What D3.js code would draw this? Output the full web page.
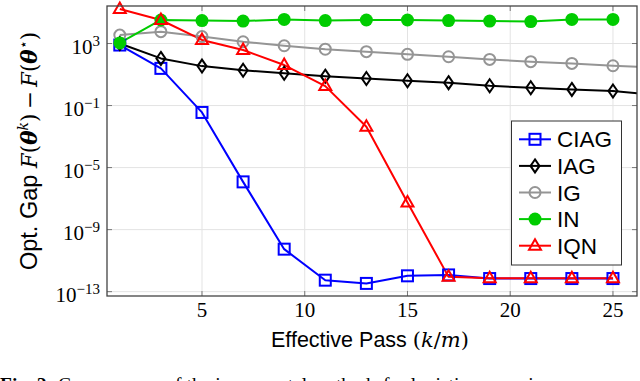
<!DOCTYPE html>
<html>
<head>
<meta charset="utf-8">
<script src="https://cdn.jsdelivr.net/npm/d3@7"></script>
<style>
  body { margin: 0; background: #fff; }
  svg { display: block; }
  .sans { font-family: "Liberation Sans", Arial, sans-serif; }
  .serif { font-family: "Liberation Serif", "Times New Roman", serif; }
  .math { font-family: "DejaVu Serif", serif; }
</style>
</head>
<body>
<div id="chart"></div>
<script>
const WIDTH = 640
const HEIGHT = 381

// effective passes (k/m)
const passes = [1, 3, 5, 7, 9, 11, 13, 15, 17, 19, 21, 23, 25]
const passesLong = [1, 3, 5, 7, 9, 11, 13, 15, 17, 19, 21, 23, 25, 27]

// optimality gap per method
const ciag = [8e2, 2.5e1, 3.6e-2, 1.2e-6, 5.5e-11, 5.5e-13, 3.4e-13, 1.05e-12, 1.2e-12, 7e-13, 7e-13, 7e-13, 7e-13]
const iag = [1.0e3, 1.1e2, 3.5e1, 1.9e1, 1.2e1, 7.9, 5.6, 4.0, 3.0, 1.9, 1.4, 1.1, 0.87, 0.48]
const ig = [3.5e3, 5.8e3, 2.8e3, 1.3e3, 7.2e2, 4.3e2, 3.0e2, 2.0e2, 1.4e2, 9.5e1, 6.8e1, 5.2e1, 3.7e1, 2.8e1]
const inewton = [1.1e3, 3.3e4, 3.0e4, 2.8e4, 3.6e4, 3.0e4, 3.3e4, 3.3e4, 3.0e4, 2.8e4, 2.6e4, 3.6e4, 3.6e4]
const iqn = [1.7e5, 3.3e4, 1.7e3, 3.8e2, 4.1e1, 1.8, 4.3e-3, 5.6e-8, 9e-13, 7.4e-13, 7.4e-13, 7.4e-13, 7.4e-13]

const xTicks = [5, 10, 15, 20, 25]
const yTicks = [3, -1, -5, -9, -13]

const series = [
    {name: 'CIAG', x: passes, y: ciag, color: '#0000ff', marker: 'square'},
    {name: 'IAG', x: passesLong, y: iag, color: '#000000', marker: 'diamond'},
    {name: 'IG', x: passesLong, y: ig, color: '#959595', marker: 'circle'},
    {name: 'IN', x: passes, y: inewton, color: '#00cc00', marker: 'dot'},
    {name: 'IQN', x: passes, y: iqn, color: '#ff0000', marker: 'triangle'},
]

const plot = {left: 107, right: 637, top: 6, bottom: 296}

window.onload = function () {
    const svg = d3.select('#chart').append('svg').attr('width', WIDTH).attr('height', HEIGHT)

    const x = d3.scaleLinear().domain([0.377, 26.17]).range([plot.left, plot.right])
    const y = d3.scaleLog().domain([Math.pow(10, -13.28), Math.pow(10, 5.42)]).range([plot.bottom, plot.top])

    svg.append('defs').append('clipPath').attr('id', 'clip')
        .append('rect')
        .attr('x', plot.left).attr('y', plot.top)
        .attr('width', plot.right - plot.left).attr('height', plot.bottom - plot.top)

    // grid
    const grid = svg.append('g')
    grid.selectAll('.vg').data(xTicks).enter().append('line')
        .attr('x1', d => x(d)).attr('x2', d => x(d))
        .attr('y1', plot.top).attr('y2', plot.bottom)
        .attr('stroke', '#e3e3e3').attr('stroke-width', 1)
    grid.selectAll('.hg').data(yTicks).enter().append('line')
        .attr('y1', d => y(Math.pow(10, d))).attr('y2', d => y(Math.pow(10, d)))
        .attr('x1', plot.left).attr('x2', plot.right)
        .attr('stroke', '#e3e3e3').attr('stroke-width', 1)

    // inner ticks on all four sides
    const ticks = svg.append('g').attr('stroke', '#777').attr('stroke-width', 1)
    xTicks.forEach(t => {
        ticks.append('line').attr('x1', x(t)).attr('x2', x(t)).attr('y1', plot.bottom).attr('y2', plot.bottom - 5)
        ticks.append('line').attr('x1', x(t)).attr('x2', x(t)).attr('y1', plot.top).attr('y2', plot.top + 5)
    })
    yTicks.forEach(t => {
        const yy = y(Math.pow(10, t))
        ticks.append('line').attr('x1', plot.left).attr('x2', plot.left + 5).attr('y1', yy).attr('y2', yy)
        ticks.append('line').attr('x1', plot.right).attr('x2', plot.right - 5).attr('y1', yy).attr('y2', yy)
    })

    // x tick labels
    svg.append('g').selectAll('text').data(xTicks).enter().append('text')
        .attr('class', 'serif')
        .attr('x', d => x(d)).attr('y', 317)
        .attr('text-anchor', 'middle')
        .attr('font-size', 21)
        .text(d => d)

    // y tick labels 10^n
    const yl = svg.append('g').selectAll('text').data(yTicks).enter().append('text')
        .attr('class', 'serif')
        .attr('x', 100).attr('y', d => y(Math.pow(10, d)) + 10)
        .attr('text-anchor', 'end')
        .attr('font-size', 21)
    yl.append('tspan').text('10')
    yl.append('tspan').attr('dy', -8).attr('font-size', 15)
        .text(d => d < 0 ? '\u2212' + Math.abs(d) : d)

    // lines + markers
    const line = d3.line().x(d => x(d[0])).y(d => y(d[1]))
    const lines = svg.append('g').attr('clip-path', 'url(#clip)')
    const marks = svg.append('g')

    series.forEach(s => {
        const pts = s.x.map((v, i) => [v, s.y[i]])
        lines.append('path')
            .attr('d', line(pts))
            .attr('fill', 'none')
            .attr('stroke', s.color)
            .attr('stroke-width', 2)
            .attr('stroke-linejoin', 'round')
        const g = marks.append('g')
        pts.filter(p => p[0] <= 26).forEach(p => {
            drawMarker(g, s, x(p[0]), y(p[1]))
        })
    })

    function drawMarker(g, s, cx, cy){
        if(s.marker === 'square'){
            g.append('rect').attr('x', cx - 5.5).attr('y', cy - 5.5).attr('width', 11).attr('height', 11)
                .attr('fill', 'none').attr('stroke', s.color).attr('stroke-width', 2)
        }
        else if(s.marker === 'diamond'){
            g.append('path').attr('d', `M${cx},${cy - 6.5}L${cx + 4.5},${cy}L${cx},${cy + 6.5}L${cx - 4.5},${cy}Z`)
                .attr('fill', 'none').attr('stroke', s.color).attr('stroke-width', 2)
        }
        else if(s.marker === 'circle'){
            g.append('circle').attr('cx', cx).attr('cy', cy).attr('r', 5.5)
                .attr('fill', 'none').attr('stroke', s.color).attr('stroke-width', 2)
        }
        else if(s.marker === 'dot'){
            g.append('circle').attr('cx', cx).attr('cy', cy).attr('r', 6.5)
                .attr('fill', s.color)
        }
        else if(s.marker === 'triangle'){
            g.append('path').attr('d', `M${cx},${cy - 6.5}L${cx + 6},${cy + 4}L${cx - 6},${cy + 4}Z`)
                .attr('fill', 'none').attr('stroke', s.color).attr('stroke-width', 2)
                .attr('stroke-linejoin', 'miter')
        }
    }

    // frame
    svg.append('rect')
        .attr('x', plot.left).attr('y', plot.top)
        .attr('width', plot.right - plot.left).attr('height', plot.bottom - plot.top)
        .attr('fill', 'none').attr('stroke', '#444').attr('stroke-width', 1.3)

    // legend
    const leg = svg.append('g')
    leg.append('rect').attr('x', 511.5).attr('y', 121).attr('width', 110).attr('height', 144)
        .attr('fill', '#fff').attr('stroke', '#333').attr('stroke-width', 1)
    series.forEach((s, i) => {
        const ly = 139.3 + i * 26.6
        leg.append('line').attr('x1', 519).attr('x2', 551).attr('y1', ly).attr('y2', ly)
            .attr('stroke', s.color).attr('stroke-width', 2)
        drawMarker(leg, s, 535, ly)
        leg.append('text').attr('class', 'sans')
            .attr('x', 557).attr('y', ly + 8)
            .attr('font-size', 22.5)
            .text(s.name)
    })

    // x axis label
    const xl = svg.append('text').attr('class', 'sans')
        .attr('x', 370).attr('y', 347)
        .attr('text-anchor', 'middle')
        .attr('font-size', 21.5)
    xl.append('tspan').text('Effective Pass ')
    xl.append('tspan').attr('class', 'math').attr('font-size', 21).text('(')
    xl.append('tspan').attr('class', 'math').attr('font-size', 21).attr('font-style', 'italic').text('k')
    xl.append('tspan').attr('class', 'math').attr('font-size', 21).text('/')
    xl.append('tspan').attr('class', 'math').attr('font-size', 21).attr('font-style', 'italic').text('m')
    xl.append('tspan').attr('class', 'math').attr('font-size', 21).text(')')

    // y axis label
    const ylab = svg.append('text').attr('class', 'sans')
        .attr('transform', 'translate(37,151) rotate(-90)')
        .attr('text-anchor', 'middle')
        .attr('font-size', 23.5)
    ylab.append('tspan').text('Opt. Gap ')
    ylab.append('tspan').attr('class', 'math').attr('font-size', 21.5).attr('font-style', 'italic').text('F')
    ylab.append('tspan').attr('class', 'math').attr('font-size', 21.5).text('(')
    ylab.append('tspan').attr('class', 'math').attr('font-size', 21.5).attr('font-style', 'italic').attr('font-weight', 'bold').text('\u03b8')
    ylab.append('tspan').attr('class', 'math').attr('font-style', 'italic').attr('font-size', 14).attr('dy', -9).text('k')
    ylab.append('tspan').attr('class', 'math').attr('font-size', 21.5).attr('dy', 9).text(')\u2009\u2212\u2009')
    ylab.append('tspan').attr('class', 'math').attr('font-size', 21.5).attr('font-style', 'italic').text('F')
    ylab.append('tspan').attr('class', 'math').attr('font-size', 21.5).text('(')
    ylab.append('tspan').attr('class', 'math').attr('font-size', 21.5).attr('font-style', 'italic').attr('font-weight', 'bold').text('\u03b8')
    ylab.append('tspan').attr('class', 'math').attr('font-size', 14).attr('dy', -9).text('\u22c6')
    ylab.append('tspan').attr('class', 'math').attr('font-size', 21.5).attr('dy', 9).text(')')

    // caption, cut off by the bottom edge like in the source figure
    const cap = svg.append('text').attr('class', 'serif')
        .attr('x', 0).attr('y', 391)
        .attr('font-size', 19.5)
    cap.append('tspan').attr('font-weight', 'bold').text('Fig. 2:')
    cap.append('tspan').text('  Convergence of the incremental methods for logistic regression')
}
</script>
</body>
</html>
